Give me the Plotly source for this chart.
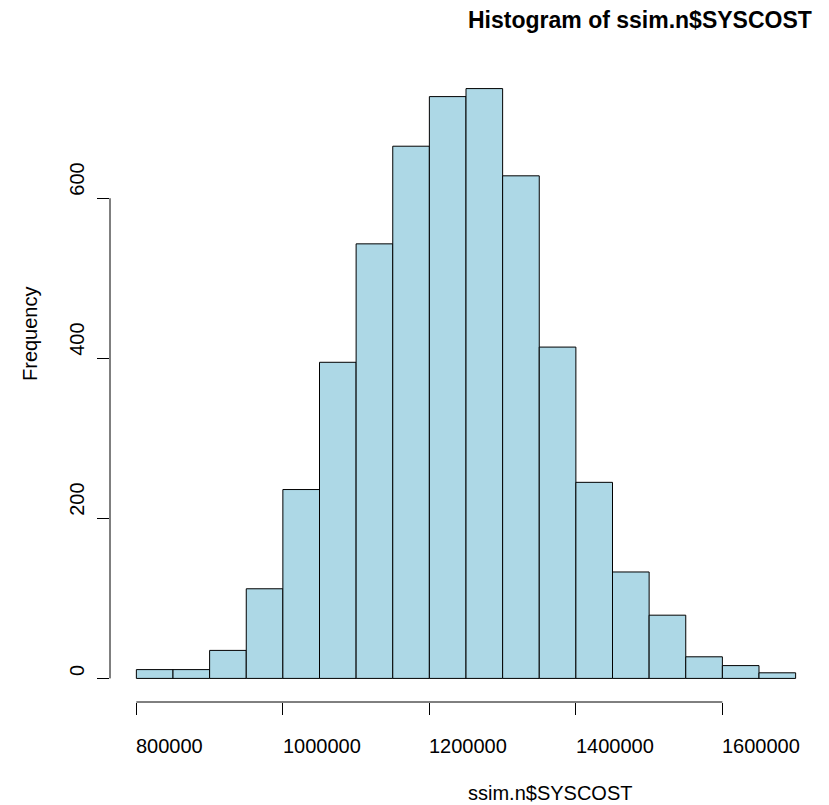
import plotly.graph_objects as go

# Histogram bins (left edges) and counts
bin_starts = [800000, 850000, 900000, 950000, 1000000, 1050000, 1100000, 1150000, 1200000,
              1250000, 1300000, 1350000, 1400000, 1450000, 1500000, 1550000, 1600000, 1650000]
bin_width = 50000
counts = [11, 11, 35, 112, 236, 395, 543, 665, 727, 737, 628, 414, 245, 133, 79, 27, 16, 7]

x_ticks = [800000, 1000000, 1200000, 1400000, 1600000]
x_tick_labels = ["800000", "1000000", "1200000", "1400000", "1600000"]
y_ticks = [0, 200, 400, 600]
y_tick_labels = ["0", "200", "400", "600"]

title_text = "Histogram of ssim.n$SYSCOST"
x_title = "ssim.n$SYSCOST"
y_title = "Frequency"

FONT = "Liberation Sans, Arial, Helvetica, sans-serif"

centers = [s + bin_width / 2 for s in bin_starts]

fig = go.Figure()
fig.add_trace(go.Bar(
    x=centers, y=counts, width=[bin_width] * len(counts),
    marker=dict(color="#ADD8E6", line=dict(color="black", width=1)),
    hoverinfo="skip",
))

x_lo, x_hi = bin_starts[0], bin_starts[-1] + bin_width
x_pad = (x_hi - x_lo) * 0.04
y_max = max(counts)
y_pad = y_max * 0.04

fig.update_layout(
    width=829, height=805,
    margin=dict(l=110, r=7, t=65, b=103),
    paper_bgcolor="white", plot_bgcolor="white",
    showlegend=False, bargap=0,
    font=dict(family=FONT, size=20, color="black"),
    xaxis=dict(range=[x_lo - x_pad, x_hi + x_pad], showgrid=False, zeroline=False,
               showline=False, ticks="outside", ticklen=12, tickwidth=1, tickcolor="black",
               tickvals=x_ticks, showticklabels=False),
    yaxis=dict(range=[-y_pad, y_max + y_pad], showgrid=False, zeroline=False,
               showline=False, ticks="outside", ticklen=12, tickwidth=1, tickcolor="black",
               tickvals=y_ticks, showticklabels=False),
)

# R-style axis lines spanning only the tick range
fig.add_shape(type="line", xref="x", yref="paper", x0=x_ticks[0], x1=x_ticks[-1], y0=0, y1=0,
              line=dict(color="black", width=1))
fig.add_shape(type="line", xref="paper", yref="y", x0=0, x1=0, y0=y_ticks[0], y1=y_ticks[-1],
              line=dict(color="black", width=1))

annotations = []
for v, t in zip(x_ticks, x_tick_labels):
    annotations.append(dict(x=v, xref="x", y=0, yref="paper", text=t, showarrow=False,
                            xanchor="left", yanchor="middle", yshift=-44, xshift=-2,
                            font=dict(size=20, family=FONT)))
for v, t in zip(y_ticks, y_tick_labels):
    annotations.append(dict(x=0, xref="paper", y=v, yref="y", text=t, showarrow=False,
                            textangle=-90, xanchor="center", yanchor="bottom", xshift=-33,
                            font=dict(size=20, family=FONT)))
annotations.append(dict(x=0.5, xref="paper", y=0, yref="paper", text=x_title, showarrow=False,
                        xanchor="left", yanchor="middle", yshift=-91,
                        font=dict(size=20, family=FONT)))
annotations.append(dict(x=0, xref="paper", y=0.5, yref="paper", text=y_title, showarrow=False,
                        textangle=-90, xanchor="center", yanchor="bottom", xshift=-80,
                        font=dict(size=20, family=FONT)))
annotations.append(dict(x=0.5, xref="paper", y=1, yref="paper", text="<b>" + title_text + "</b>",
                        showarrow=False, xanchor="left", yanchor="middle", yshift=45,
                        font=dict(size=23, family=FONT)))
fig.update_layout(annotations=annotations)

fig.write_html("out.html",
               config={"displayModeBar": False, "staticPlot": True},
               post_script="document.body.style.margin='0';document.body.style.overflow='hidden';")
